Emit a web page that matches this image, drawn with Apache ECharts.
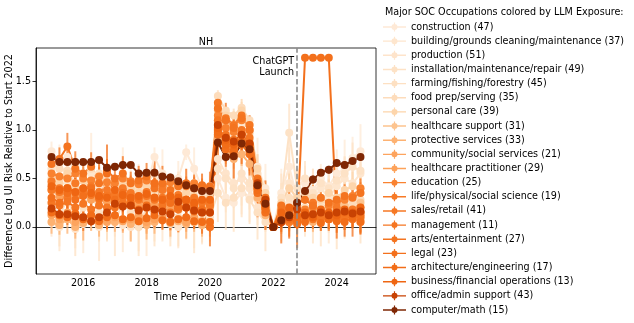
<!DOCTYPE html>
<html>
<head>
<meta charset="utf-8">
<script src="https://cdn.jsdelivr.net/npm/echarts@6/dist/echarts.min.js"></script>
<style>
  html, body { margin: 0; padding: 0; background: #fff; }
  #chart { width: 634px; height: 323px; }
</style>
</head>
<body>
<div id="chart"></div>
<script>
// quarters 2015Q1 .. 2024Q4
var startYear = 2015;
var nQuarters = 40;

var occupations = [
  'construction (47)', 'building/grounds cleaning/maintenance (37)', 'production (51)',
  'installation/maintenance/repair (49)', 'farming/fishing/forestry (45)', 'food prep/serving (35)',
  'personal care (39)', 'healthcare support (31)', 'protective services (33)',
  'community/social services (21)', 'healthcare practitioner (29)', 'education (25)',
  'life/physical/social science (19)', 'sales/retail (41)', 'management (11)',
  'arts/entertainment (27)', 'legal (23)', 'architecture/engineering (17)',
  'business/financial operations (13)', 'office/admin support (43)', 'computer/math (15)'
];

var colors = [
  '#fee9d6', '#fee6ce', '#fee4cb', '#fde2c6', '#fde0c2', '#fddcbb', '#fdd5ab',
  '#fdc48f', '#fdb272', '#fda45e', '#fda25a', '#f98230', '#f77a27', '#f67824',
  '#f57622', '#f47420', '#f3701c', '#f26d18', '#ef6612', '#c84203', '#7f2704'
];

// log UI risk difference vs start of 2022, one array per occupation
var construction = [0.78,0.60,0.72,0.55, 0.48,0.62,0.50,0.40, 0.35,0.52,0.45,0.30, 0.40,0.72,0.55,0.35, 0.50,0.77,0.60,0.40, 0.42,0.50,0.30,0.25, 0.35,0.30,0.62,0.40, 0.00,0.35,0.62,0.30, 0.45,0.38,0.50,0.42, 0.55,0.60,0.71,0.78];
var building = [0.40,0.35,0.45,0.30, 0.38,0.55,0.42,0.30, 0.25,0.35,0.30,0.22, 0.28,0.35,0.30,0.25, 0.32,0.40,0.28,0.22, 0.25,1.10,1.00,0.95, 1.05,0.95,0.50,0.20, 0.00,0.20,0.45,0.25, 0.35,0.28,0.40,0.30, 0.42,0.50,0.45,0.55];
var production = [0.05,0.00,0.10,-0.02, 0.03,0.08,0.00,0.05, 0.10,0.02,0.00,0.05, 0.08,0.05,0.10,0.03, 0.00,0.05,0.08,0.02, 0.05,0.70,0.55,0.45, 0.50,0.40,0.20,0.10, 0.00,0.10,0.25,0.15, 0.20,0.12,0.25,0.18, 0.22,0.30,0.28,0.35];
var installation = [0.60,0.50,0.58,0.45, 0.52,0.40,0.55,0.48, 0.35,0.50,0.42,0.38, 0.45,0.55,0.40,0.35, 0.42,0.38,0.45,0.30, 0.35,0.60,0.50,0.40, 0.55,0.45,0.30,0.15, 0.00,0.30,0.97,0.40, 0.50,0.35,0.45,0.40, 0.48,0.55,0.62,0.58];
var farming = [0.25,0.10,0.30,0.05, 0.20,0.35,0.15,0.10, 0.05,0.25,0.15,0.00, 0.20,0.10,0.30,0.15, 0.10,0.25,0.05,0.12, 0.10,0.35,0.25,0.30, 0.40,0.28,0.15,0.05, 0.00,0.15,0.30,0.10, 0.20,0.15,0.10,0.22, 0.12,0.18,0.25,0.15];
var foodPrep = [0.65,0.60,0.58,0.62, 0.55,0.60,0.50,0.52, 0.48,0.50,0.45,0.42, 0.45,0.40,0.42,0.38, 0.40,0.35,0.38,0.36, 0.38,1.35,1.20,1.15, 1.23,1.10,0.55,0.30, 0.00,0.08,0.15,0.12, 0.18,0.15,0.20,0.16, 0.22,0.20,0.25,0.28];
var personalCare = [0.50,0.45,0.55,0.42, 0.48,0.40,0.52,0.45, 0.38,0.45,0.40,0.35, 0.42,0.38,0.35,0.40, 0.30,0.35,0.32,0.28, 0.30,1.25,1.15,1.05, 1.20,1.05,0.60,0.35, 0.00,0.25,0.40,0.30, 0.35,0.30,0.28,0.35, 0.30,0.38,0.42,0.40];
var healthSupport = [0.45,0.35,0.40,0.32, 0.38,0.30,0.35,0.28, 0.25,0.32,0.28,0.22, 0.30,0.25,0.22,0.20, 0.28,0.22,0.18,0.20, 0.22,1.20,1.05,1.00, 1.12,0.98,0.42,0.18, 0.00,0.12,0.08,0.15, 0.10,0.18,0.12,0.20, 0.15,0.22,0.18,0.25];
var protective = [0.05,0.02,0.08,0.00, 0.04,0.06,0.02,0.10, 0.05,0.08,0.03,0.06, 0.02,0.05,0.08,0.04, 0.06,0.03,0.05,0.02, 0.00,0.90,0.80,0.70, 0.75,0.65,0.30,0.12, 0.00,0.05,0.10,0.08, 0.12,0.05,0.10,0.08, 0.15,0.10,0.12,0.08];
var community = [0.12,0.08,0.15,0.05, 0.10,0.12,0.08,0.05, 0.10,0.06,0.08,0.12, 0.05,0.08,0.10,0.06, 0.08,0.05,0.10,0.06, 0.05,1.00,0.88,0.82, 0.90,0.80,0.35,0.15, 0.00,0.08,0.05,0.10, 0.08,0.12,0.06,0.10, 0.08,0.12,0.10,0.05];
var healthPract = [0.38,0.32,0.35,0.30, 0.34,0.28,0.32,0.26, 0.30,0.25,0.28,0.22, 0.26,0.22,0.25,0.20, 0.24,0.20,0.22,0.18, 0.20,1.05,0.92,0.88, 0.96,0.85,0.40,0.20, 0.00,0.10,0.05,0.12, 0.08,0.15,0.10,0.12, 0.18,0.12,0.15,0.20];
var education = [0.55,0.52,0.50,0.55, 0.50,0.48,0.52,0.46, 0.45,0.50,0.47,0.44, 0.48,0.45,0.42,0.46, 0.44,0.42,0.45,0.42, 0.40,1.15,1.02,0.98, 1.10,1.00,0.48,0.25, 0.00,0.12,0.15,0.10, 0.18,0.20,0.16,0.22, 0.25,0.28,0.32,0.40];
var lifeScience = [0.47,0.40,0.30,0.45, 0.35,0.42,0.28,0.38, 0.32,0.40,0.35,0.28, 0.36,0.30,0.38,0.25, 0.33,0.28,0.30,0.25, 0.22,1.00,0.85,0.80, 0.88,0.78,0.40,0.22, 0.00,0.18,0.05,0.22, 0.10,0.25,0.15,0.08, 0.20,0.12,0.18,0.15];
var sales = [0.38,0.36,0.40,0.35, 0.37,0.33,0.36,0.32, 0.34,0.30,0.33,0.29, 0.32,0.28,0.30,0.27, 0.30,0.26,0.28,0.26, 0.25,1.28,1.12,1.05, 1.15,1.05,0.50,0.28, 0.00,0.10,0.12,0.08, 0.10,0.12,0.09,0.14, 0.12,0.10,0.13,0.15];
var management = [0.25,0.22,0.26,0.20, 0.24,0.18,0.22,0.20, 0.20,0.25,0.22,0.18, 0.20,0.17,0.22,0.15, 0.18,0.20,0.16,0.15, 0.15,1.10,0.95,0.90, 1.00,0.92,0.42,0.20, 0.00,0.08,0.15,0.05, 0.12,0.08,0.10,0.12, 0.08,0.10,0.12,0.10];
var arts = [0.65,0.70,0.83,0.60, 0.55,0.62,0.45,0.58, 0.50,0.55,0.45,0.48, 0.52,0.40,0.45,0.38, 0.42,0.45,0.40,0.43, 0.42,1.22,1.10,1.02, 1.12,1.00,0.48,0.30, 0.00,0.22,0.18,0.25, 0.28,0.22,0.30,0.25, 0.28,0.32,0.30,0.35];
var legal = [0.30,0.25,0.35,0.28, 0.32,0.40,0.30,0.55, 0.28,0.35,0.25,0.30, 0.22,0.45,0.28,0.25, 0.20,0.28,0.22,0.18, 0.00,0.95,0.80,0.75, 0.85,0.75,0.35,0.15, 0.00,0.05,0.08,0.03, 1.745,1.745,1.745,1.745, 0.10,0.15,0.08,0.12];
var architecture = [0.15,0.12,0.10,0.14, 0.08,0.12,0.06,0.10, 0.12,0.08,0.10,0.06, 0.09,0.12,0.07,0.05, 0.08,0.10,0.06,0.05, 0.05,0.98,0.85,0.78, 0.88,0.80,0.38,0.18, 0.00,0.05,0.10,0.06, 0.05,0.10,0.04,0.08, 0.06,0.05,0.10,0.05];
var business = [0.42,0.38,0.40,0.36, 0.40,0.35,0.32,0.30, 0.38,0.33,0.30,0.32, 0.34,0.30,0.28,0.32, 0.30,0.28,0.25,0.28, 0.28,1.02,0.90,0.85, 0.95,0.85,0.42,0.22, 0.00,0.15,0.20,0.12, 0.15,0.10,0.18,0.15, 0.12,0.18,0.15,0.20];
var officeAdmin = [0.19,0.13,0.13,0.11, 0.10,0.06,0.10,0.15, 0.24,0.21,0.22,0.17, 0.20,0.18,0.16,0.13, 0.26,0.20,0.17,0.15, 0.15,1.05,0.92,0.88, 0.95,0.86,0.45,0.28, 0.00,0.05,0.10,0.18, 0.12,0.13,0.15,0.12, 0.15,0.16,0.14,0.16];
var computerMath = [0.72,0.67,0.67,0.67, 0.67,0.67,0.69,0.61, 0.62,0.64,0.64,0.55, 0.56,0.56,0.52,0.51, 0.47,0.43,0.40,0.37, 0.37,0.87,0.72,0.73, 0.86,0.80,0.43,0.24, 0.00,0.07,0.12,0.25, 0.37,0.49,0.56,0.59, 0.66,0.64,0.68,0.72];

// half-width of the error bars
var errConstruction = [0.10,0.25,0.12,0.20, 0.15,0.35,0.18,0.22, 0.12,0.30,0.20,0.35, 0.15,0.10,0.25,0.20, 0.18,0.08,0.22,0.15, 0.12,0.20,0.15,0.18, 0.22,0.25,0.30,0.25, 0.00,0.25,0.20,0.30, 0.18,0.22,0.15,0.20, 0.25,0.30,0.22,0.28];
var errBuilding = [0.12,0.20,0.15,0.25, 0.18,0.12,0.20,0.15, 0.22,0.18,0.25,0.15, 0.20,0.28,0.15,0.22, 0.12,0.20,0.18,0.15, 0.20,0.15,0.18,0.12, 0.15,0.20,0.25,0.18, 0.00,0.20,0.25,0.18, 0.22,0.15,0.20,0.25, 0.18,0.22,0.28,0.20];
var errProduction = [0.15,0.25,0.10,0.20, 0.30,0.12,0.35,0.18, 0.20,0.28,0.15,0.30, 0.38,0.20,0.25,0.15, 0.22,0.18,0.30,0.20, 0.15,0.25,0.20,0.15, 0.28,0.22,0.18,0.15, 0.00,0.20,0.25,0.22, 0.30,0.18,0.25,0.35, 0.20,0.28,0.22,0.30];
var errInstallation = [0.10,0.15,0.12,0.18, 0.10,0.20,0.12,0.15, 0.18,0.12,0.10,0.15, 0.12,0.18,0.15,0.10, 0.15,0.12,0.18,0.12, 0.15,0.18,0.12,0.20, 0.15,0.18,0.22,0.15, 0.00,0.25,0.30,0.20, 0.18,0.25,0.15,0.20, 0.22,0.18,0.25,0.20];
var errFarming = [0.20,0.30,0.25,0.35, 0.22,0.28,0.30,0.25, 0.35,0.20,0.28,0.30, 0.25,0.30,0.22,0.35, 0.30,0.25,0.32,0.28, 0.25,0.30,0.28,0.35, 0.30,0.25,0.28,0.30, 0.00,0.30,0.35,0.28, 0.25,0.32,0.30,0.28, 0.35,0.30,0.25,0.32];
var errFoodPrep = [0.05,0.08,0.06,0.05, 0.07,0.06,0.08,0.05, 0.06,0.07,0.05,0.06, 0.08,0.06,0.05,0.07, 0.06,0.05,0.07,0.06, 0.05,0.06,0.05,0.07, 0.06,0.05,0.06,0.05, 0.00,0.06,0.05,0.07, 0.06,0.05,0.08,0.06, 0.05,0.07,0.06,0.05];
var errPersonalCare = [0.12,0.10,0.15,0.12, 0.10,0.14,0.12,0.10, 0.15,0.12,0.10,0.14, 0.12,0.15,0.10,0.12, 0.14,0.10,0.12,0.15, 0.10,0.12,0.10,0.14, 0.12,0.10,0.15,0.12, 0.00,0.14,0.15,0.12, 0.10,0.15,0.12,0.14, 0.12,0.10,0.15,0.12];
var errHealthSupport = [0.08,0.10,0.08,0.12, 0.10,0.08,0.10,0.12, 0.08,0.10,0.12,0.08, 0.10,0.08,0.12,0.10, 0.08,0.12,0.10,0.08, 0.10,0.08,0.10,0.12, 0.08,0.10,0.08,0.10, 0.00,0.10,0.12,0.08, 0.10,0.12,0.10,0.08, 0.12,0.10,0.08,0.10];
var errProtective = [0.12,0.10,0.15,0.12, 0.18,0.10,0.12,0.15, 0.10,0.12,0.18,0.10, 0.15,0.12,0.10,0.14, 0.12,0.15,0.10,0.12, 0.10,0.12,0.15,0.10, 0.12,0.10,0.12,0.15, 0.00,0.12,0.10,0.15, 0.12,0.10,0.14,0.12, 0.15,0.10,0.12,0.14];
var errCommunity = [0.10,0.08,0.10,0.12, 0.08,0.10,0.12,0.08, 0.10,0.12,0.08,0.10, 0.12,0.10,0.08,0.10, 0.08,0.10,0.12,0.08, 0.10,0.08,0.10,0.12, 0.10,0.08,0.12,0.10, 0.00,0.10,0.08,0.12, 0.10,0.08,0.10,0.12, 0.08,0.10,0.12,0.10];
var errHealthPract = [0.06,0.05,0.07,0.06, 0.05,0.06,0.07,0.05, 0.06,0.05,0.06,0.07, 0.05,0.06,0.05,0.07, 0.06,0.05,0.06,0.05, 0.06,0.05,0.07,0.06, 0.05,0.06,0.05,0.07, 0.00,0.06,0.05,0.06, 0.07,0.05,0.06,0.05, 0.06,0.07,0.05,0.06];
var errEducation = [0.06,0.08,0.10,0.07, 0.08,0.06,0.10,0.08, 0.07,0.09,0.06,0.08, 0.10,0.07,0.08,0.06, 0.08,0.10,0.07,0.08, 0.06,0.08,0.07,0.10, 0.08,0.06,0.08,0.07, 0.00,0.08,0.10,0.07, 0.08,0.06,0.09,0.08, 0.07,0.10,0.08,0.06];
var errLifeScience = [0.12,0.15,0.18,0.12, 0.15,0.12,0.20,0.15, 0.12,0.18,0.15,0.12, 0.20,0.15,0.12,0.18, 0.15,0.12,0.18,0.15, 0.12,0.15,0.18,0.12, 0.15,0.20,0.12,0.15, 0.00,0.18,0.15,0.20, 0.12,0.18,0.15,0.12, 0.20,0.15,0.18,0.12];
var errSales = [0.04,0.05,0.04,0.06, 0.05,0.04,0.05,0.04, 0.06,0.05,0.04,0.05, 0.04,0.06,0.05,0.04, 0.05,0.04,0.06,0.05, 0.04,0.05,0.04,0.06, 0.05,0.04,0.05,0.04, 0.00,0.05,0.04,0.06, 0.05,0.04,0.05,0.06, 0.04,0.05,0.04,0.05];
var errManagement = [0.06,0.08,0.07,0.06, 0.08,0.06,0.07,0.08, 0.06,0.07,0.08,0.06, 0.07,0.08,0.06,0.07, 0.08,0.06,0.07,0.08, 0.06,0.07,0.06,0.08, 0.07,0.06,0.08,0.07, 0.00,0.07,0.08,0.06, 0.07,0.08,0.06,0.07, 0.08,0.06,0.07,0.08];
var errArts = [0.15,0.12,0.14,0.18, 0.12,0.15,0.20,0.12, 0.15,0.18,0.12,0.15, 0.14,0.12,0.18,0.15, 0.12,0.15,0.14,0.12, 0.15,0.12,0.18,0.14, 0.12,0.15,0.12,0.18, 0.00,0.15,0.18,0.12, 0.14,0.15,0.12,0.18, 0.15,0.12,0.14,0.15];
var errLegal = [0.18,0.22,0.20,0.25, 0.20,0.18,0.25,0.30, 0.22,0.20,0.18,0.25, 0.20,0.25,0.22,0.18, 0.25,0.20,0.22,0.18, 0.20,0.22,0.18,0.25, 0.20,0.22,0.25,0.18, 0.00,0.22,0.20,0.25, 0.00,0.00,0.00,0.00, 0.22,0.25,0.18,0.20];
var errArchitecture = [0.10,0.12,0.08,0.10, 0.12,0.10,0.08,0.12, 0.10,0.08,0.12,0.10, 0.08,0.12,0.10,0.08, 0.12,0.10,0.08,0.12, 0.10,0.12,0.08,0.10, 0.12,0.10,0.08,0.12, 0.00,0.10,0.12,0.08, 0.10,0.12,0.08,0.10, 0.12,0.08,0.10,0.12];
var errBusiness = [0.06,0.08,0.07,0.06, 0.08,0.07,0.06,0.08, 0.07,0.06,0.08,0.07, 0.06,0.08,0.07,0.06, 0.08,0.07,0.06,0.08, 0.07,0.06,0.08,0.07, 0.06,0.08,0.07,0.06, 0.00,0.08,0.07,0.06, 0.08,0.07,0.06,0.08, 0.07,0.06,0.08,0.07];
var errOfficeAdmin = [0.04,0.05,0.04,0.05, 0.04,0.05,0.04,0.05, 0.04,0.05,0.04,0.05, 0.04,0.05,0.04,0.05, 0.04,0.05,0.04,0.05, 0.04,0.05,0.04,0.05, 0.04,0.05,0.04,0.05, 0.00,0.05,0.04,0.05, 0.04,0.05,0.04,0.05, 0.04,0.05,0.04,0.05];
var errComputerMath = [0.03,0.04,0.03,0.04, 0.03,0.04,0.03,0.04, 0.03,0.04,0.03,0.04, 0.03,0.04,0.03,0.04, 0.03,0.04,0.03,0.04, 0.03,0.04,0.03,0.04, 0.03,0.04,0.03,0.04, 0.00,0.04,0.03,0.04, 0.03,0.04,0.03,0.04, 0.03,0.04,0.03,0.04];

var values = [construction, building, production, installation, farming, foodPrep, personalCare,
  healthSupport, protective, community, healthPract, education, lifeScience, sales, management,
  arts, legal, architecture, business, officeAdmin, computerMath];
var errors = [errConstruction, errBuilding, errProduction, errInstallation, errFarming, errFoodPrep,
  errPersonalCare, errHealthSupport, errProtective, errCommunity, errHealthPract, errEducation,
  errLifeScience, errSales, errManagement, errArts, errLegal, errArchitecture, errBusiness,
  errOfficeAdmin, errComputerMath];

var xTicks = [2016, 2018, 2020, 2022, 2024];
var yTicks = [0, 0.5, 1.0, 1.5];
var chatGptLaunch = 2022.75;

var FONT = 'DejaVu Sans';
var FS = 9.6;

var quarterX = [];
for (var q = 0; q < nQuarters; q++) quarterX.push(startYear + q / 4);

var legendIcon = 'path://M0,4.3H23V5.7H0Z M10.9,0.5H12.1V9.5H10.9Z M11.5,2A3,3 0 1,1 11.5,8A3,3 0 1,1 11.5,2Z';

var series = [];
occupations.forEach(function (name, k) {
  var col = colors[k];
  series.push({
    type: 'custom',
    name: name + '_err',
    clip: true,
    silent: true,
    data: values[k].map(function (v, i) { return [quarterX[i], v, errors[k][i]]; }),
    renderItem: function (params, api) {
      var x = api.value(0), v = api.value(1), e = api.value(2);
      var p1 = api.coord([x, v - e]);
      var p2 = api.coord([x, v + e]);
      return {
        type: 'line',
        shape: { x1: p1[0], y1: p1[1], x2: p2[0], y2: p2[1] },
        style: { stroke: col, lineWidth: 2, opacity: 0.75 }
      };
    }
  });
  series.push({
    type: 'line',
    name: name,
    data: values[k].map(function (v, i) { return [quarterX[i], v]; }),
    symbol: 'circle',
    symbolSize: 8,
    showSymbol: true,
    color: col,
    lineStyle: { width: 2, color: col },
    itemStyle: { color: col },
    clip: true
  });
});

// ChatGPT launch line
series[series.length - 1].markLine = {
  silent: true,
  symbol: 'none',
  label: { show: false },
  lineStyle: { type: [5.5, 2.4], color: '#8c8c8c', width: 1.6 },
  data: [{ xAxis: chatGptLaunch }]
};

var myChart = echarts.init(document.getElementById('chart'));

var option = {
  animation: false,
  backgroundColor: '#fff',
  textStyle: { fontFamily: FONT },
  title: {
    text: 'NH',
    left: 206,
    top: 37,
    padding: 0,
    textAlign: 'center',
    textStyle: { fontFamily: FONT, fontSize: FS, fontWeight: 'normal', color: '#000' }
  },
  grid: {
    left: 36, right: 258, top: 48, bottom: 49,
    outerBoundsMode: 'none',
    containLabel: false,
    show: true, borderColor: '#000', borderWidth: 0.8, backgroundColor: 'transparent'
  },
  legend: {
    orient: 'vertical',
    left: 383,
    top: 22,
    bottom: 0,
    itemWidth: 23,
    itemHeight: 10,
    itemGap: 4.15,
    padding: 0,
    icon: legendIcon,
    data: occupations,
    selectedMode: false,
    textStyle: { fontFamily: FONT, fontSize: FS, color: '#000' }
  },
  xAxis: {
    type: 'value',
    min: 2014.51,
    max: 2025.24,
    name: 'Time Period (Quarter)',
    nameLocation: 'middle',
    nameGap: 18,
    nameMoveOverlap: false,
    nameTextStyle: { fontFamily: FONT, fontSize: FS, color: '#000' },
    axisLine: { show: true, lineStyle: { color: '#000', width: 0.8 } },
    axisTick: { show: true, length: 3.5, customValues: xTicks, lineStyle: { color: '#000', width: 0.8 } },
    axisLabel: {
      customValues: xTicks, fontFamily: FONT, fontSize: FS, color: '#000', margin: 4,
      formatter: function (v) { return String(v); }
    },
    splitLine: { show: false }
  },
  yAxis: {
    type: 'value',
    min: -0.485,
    max: 1.845,
    name: 'Difference Log UI Risk Relative to Start 2022',
    nameLocation: 'middle',
    nameGap: 22,
    nameMoveOverlap: false,
    nameTextStyle: { fontFamily: FONT, fontSize: FS, color: '#000' },
    axisLine: { show: true, lineStyle: { color: '#000', width: 0.8 } },
    axisTick: { show: true, length: 3.5, customValues: yTicks, lineStyle: { color: '#000', width: 0.8 } },
    axisLabel: {
      customValues: yTicks, fontFamily: FONT, fontSize: FS, color: '#000', margin: 5,
      formatter: function (v) { return v.toFixed(1); }
    },
    splitLine: { show: false }
  },
  series: series
};

myChart.setOption(option);

var lp = myChart.convertToPixel({ gridIndex: 0 }, [chatGptLaunch, 0]);
myChart.setOption({
  graphic: [
    {
      type: 'text',
      left: 385,
      top: 7,
      style: { text: 'Major SOC Occupations colored by LLM Exposure:', fontFamily: FONT, fontSize: FS, fill: '#000' }
    },
    {
      type: 'text',
      x: lp[0] - 3,
      y: 55.5,
      z: 100,
      style: {
        text: 'ChatGPT\nLaunch', fontFamily: FONT, fontSize: FS, lineHeight: 11.5,
        align: 'right', verticalAlign: 'top', fill: '#000'
      }
    }
  ]
});
</script>
</body>
</html>
